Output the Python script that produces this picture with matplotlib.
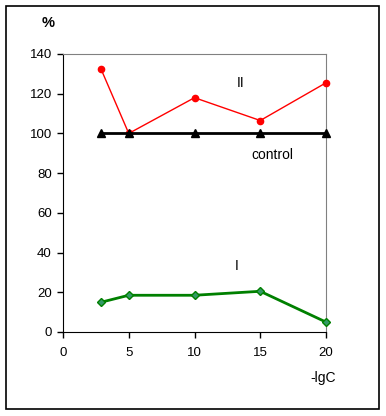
import matplotlib.pyplot as plt
from matplotlib.patches import Rectangle

plt.rcParams['font.family'] = ['Liberation Sans', 'DejaVu Sans']

x = [2.9, 5, 10, 15, 20]
control = [100, 100, 100, 100, 100]
series_II = [132.3, 100, 118, 106.5, 125.5]
series_I = [15, 18.5, 18.5, 20.5, 5]
xticks = [0, 5, 10, 15, 20]
yticks = [0, 20, 40, 60, 80, 100, 120, 140]

fig = plt.figure(figsize=(3.86, 4.16), dpi=100)
fig.patches.append(Rectangle((6 / 386, 1 - 409 / 416), 373 / 386, 403 / 416,
                             transform=fig.transFigure, fill=False,
                             edgecolor='black', linewidth=1.2))
ax = fig.add_axes([63 / 386, 1 - 332 / 416, 263 / 386, 278 / 416])

ax.plot(x, series_II, color='red', linewidth=1, marker='o', markersize=4.5,
        clip_on=False, zorder=4)
ax.plot(x, control, color='black', linewidth=2, marker='^', markersize=5.5,
        clip_on=False, zorder=5)
ax.plot(x, series_I, color='green', linewidth=2, marker='D', markersize=4,
        markerfacecolor='#339966', markeredgecolor='green', clip_on=False, zorder=4)

ax.set_xlim(0, 20)
ax.set_ylim(0, 140)
ax.set_xticks(xticks)
ax.set_yticks(yticks)
ax.tick_params(direction='out', length=4, width=1, labelsize=9.5, pad=4)
ax.tick_params(axis='x', pad=7)
for side in ['top', 'right']:
    ax.spines[side].set_color('gray')
for side in ['left', 'bottom']:
    ax.spines[side].set_color('black')

fig.text(48 / 386, 1 - 23 / 416, '%', fontsize=10.5, fontweight='bold',
         ha='center', va='center')
fig.text(323 / 386, 1 - 378 / 416, '-lgC', fontsize=10, ha='center', va='center')
fig.text(241 / 386, 1 - 83 / 416, 'II', fontsize=10, ha='center', va='center')
fig.text(272 / 386, 1 - 155 / 416, 'control', fontsize=10, ha='center', va='center')
fig.text(237 / 386, 1 - 266 / 416, 'I', fontsize=10, ha='center', va='center')

fig.savefig('out.png', dpi=100)
